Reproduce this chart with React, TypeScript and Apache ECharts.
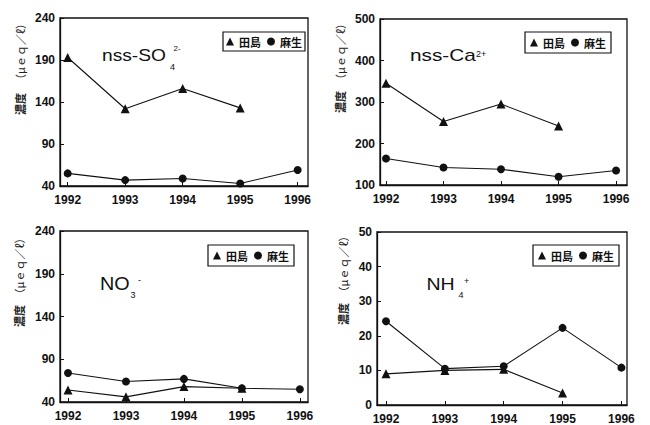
import React, { useEffect, useRef } from "react";
import * as echarts from "echarts";

const years = [1992, 1993, 1994, 1995, 1996];
const seriesNames = ["田島", "麻生"];
const so4Tajima = [193, 132, 156, 133, null];
const so4Aso = [55, 47, 49, 43, 59];
const caTajima = [345, 253, 295, 242, null];
const caAso = [164, 142, 138, 120, 135];
const no3Tajima = [54, 46, 58, 56, null];
const no3Aso = [74, 64, 67, 56, 55];
const nh4Tajima = [9, 10, 10.3, 3.5, null];
const nh4Aso = [24.2, 10.5, 11.2, 22.3, 10.8];
const ticks1 = [40, 90, 140, 190, 240];
const ticks2 = [100, 200, 300, 400, 500];
const ticks3 = [40, 90, 140, 190, 240];
const ticks4 = [0, 10, 20, 30, 40, 50];
const yTitleA = "濃度";
const yTitleB = "（μｅｑ／ℓ）";

const FONT = "Liberation Sans";
const CJK = "Noto Sans CJK JP";

function pairs(vals: (number | null)[]) {
  return years.map((y, i) => [y, vals[i]]);
}

export default function App() {
  const ref = useRef<HTMLDivElement>(null);
  useEffect(() => {
    if (!ref.current) return;
    const chart = echarts.init(ref.current, null, { renderer: "svg" });

    const grids = [
      { left: 60, top: 18, width: 248, height: 168, xmin: 1991.866, xmax: 1996.18, ymin: 40, ymax: 240, ticks: ticks1 },
      { left: 380, top: 19, width: 247, height: 166, xmin: 1991.896, xmax: 1996.19, ymin: 100, ymax: 500, ticks: ticks2 },
      { left: 60, top: 231, width: 248, height: 171, xmin: 1991.862, xmax: 1996.14, ymin: 40, ymax: 240, ticks: ticks3 },
      { left: 377, top: 232, width: 250, height: 173, xmin: 1991.847, xmax: 1996.095, ymin: 0, ymax: 50, ticks: ticks4 },
    ];

    const axisLine = { show: true, onZero: false, lineStyle: { color: "#111", width: 1.3 } };
    const labelStyle = { color: "#111", fontFamily: FONT, fontWeight: "bold" as const, fontSize: 12 };

    const xAxis = grids.map((g, i) => ({
      type: "value",
      gridIndex: i,
      min: g.xmin,
      max: g.xmax,
      axisLine,
      axisTick: { show: true, inside: true, length: 4, customValues: years, lineStyle: { color: "#111" } },
      axisLabel: { ...labelStyle, margin: 8, customValues: years, formatter: (v: number) => String(v) },
      splitLine: { show: false },
    }));
    const yAxis = grids.map((g, i) => ({
      type: "value",
      gridIndex: i,
      min: g.ymin,
      max: g.ymax,
      axisLine,
      axisTick: { show: true, inside: true, length: 4, customValues: g.ticks, lineStyle: { color: "#111" } },
      axisLabel: { ...labelStyle, margin: 5, customValues: g.ticks, formatter: (v: number) => String(v) },
      splitLine: { show: false },
    }));

    const data = [
      [so4Tajima, so4Aso],
      [caTajima, caAso],
      [no3Tajima, no3Aso],
      [nh4Tajima, nh4Aso],
    ];
    const series: any[] = [];
    data.forEach((pair, i) => {
      pair.forEach((vals, j) => {
        series.push({
          type: "line",
          name: seriesNames[j],
          xAxisIndex: i,
          yAxisIndex: i,
          data: pairs(vals),
          symbol: j === 0 ? "triangle" : "circle",
          symbolSize: j === 0 ? 9 : 8,
          connectNulls: false,
          itemStyle: { color: "#111" },
          lineStyle: { color: "#111", width: 1.1 },
        });
      });
    });

    const legendPos = [
      { left: 223, top: 32, padding: [4, 3] },
      { left: 525, top: 32, padding: [5, 5] },
      { left: 208, top: 245, padding: [5, 5] },
      { left: 533, top: 245, padding: [5, 5] },
    ];
    const legend = legendPos.map((p) => ({
      left: p.left,
      top: p.top,
      padding: p.padding,
      orient: "horizontal",
      borderColor: "#111",
      borderWidth: 1.2,
      backgroundColor: "#fff",
      itemGap: 6,
      itemWidth: 8,
      itemHeight: 8,
      selectedMode: false,
      data: [
        { name: seriesNames[0], icon: "triangle" },
        { name: seriesNames[1], icon: "circle" },
      ],
      textStyle: { color: "#111", fontFamily: CJK, fontWeight: "bold", fontSize: 11 },
    }));

    const yTitles: any[] = [];
    [
      { x: 20, y: 10, b: 115 },
      { x: 340, y: 12, b: 113 },
      { x: 19, y: 227, b: 327 },
      { x: 343, y: 225, b: 325 },
    ].forEach((p) => {
      // 濃度 at the bottom (about 22px), rest above
      const split = p.b - 22;
      yTitles.push({
        type: "text",
        x: p.x,
        y: (p.b + split) / 2,
        rotation: Math.PI / 2,
        style: { text: yTitleA, align: "center", verticalAlign: "middle", fontFamily: CJK, fontWeight: "bold", fontSize: 11, fill: "#222" },
      });
      yTitles.push({
        type: "text",
        x: p.x,
        y: (split + p.y) / 2,
        rotation: Math.PI / 2,
        style: { text: yTitleB, align: "center", verticalAlign: "middle", fontFamily: CJK, fontWeight: "normal", fontSize: 11, fill: "#222" },
      });
    });

    const t = (text: string, x: number, y: number, fs: number, sx = 1) => ({
      type: "text",
      x,
      y,
      scaleX: sx,
      style: { text, fontFamily: FONT, fontWeight: "normal", fontSize: fs, fill: "#111", align: "left", verticalAlign: "middle" },
    });
    const chem = [
      t("nss-SO", 102, 55.5, 16, 1.2),
      t("4", 170, 67, 9),
      t("2-", 173.5, 48.5, 8),
      t("nss-Ca", 410, 55.5, 16, 1.3),
      t("2+", 476, 53.5, 9),
      t("NO", 100, 283.5, 18, 1.1),
      t("3", 130.5, 294.5, 9),
      t("-", 138, 280, 9),
      t("NH", 426.5, 284, 17, 1.15),
      t("4", 458.5, 294.5, 9),
      t("+", 464, 281, 9),
    ];

    chart.setOption({
      animation: false,
      backgroundColor: "#fff",
      grid: grids.map((g) => ({
        left: g.left,
        top: g.top,
        width: g.width,
        height: g.height,
        show: true,
        borderColor: "#111",
        borderWidth: 1.3,
        backgroundColor: "transparent",
      })),
      xAxis,
      yAxis,
      legend,
      series,
      graphic: [...yTitles, ...chem],
    });
    return () => chart.dispose();
  }, []);
  return (
    <div
      ref={ref}
      style={{ position: "fixed", left: 0, top: 0, width: 650, height: 425, background: "#fff" }}
    />
  );
}
